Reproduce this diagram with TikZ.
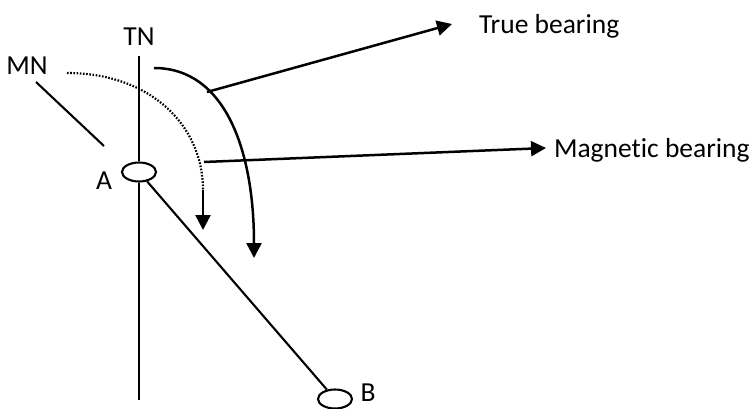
\documentclass[tikz,border=0pt]{standalone}
\usepackage{fontspec}
\setmainfont{Carlito}[Ligatures=NoCommon]
\usetikzlibrary{shapes.geometric,arrows.meta}

\begin{document}
\begin{tikzpicture}[x=1pt,y=-1pt,line width=2.1pt,
	station/.style={ellipse,draw,minimum width=34,minimum height=19,inner sep=0pt},
	lbl/.style={font=\fontsize{27.5}{32}\selectfont,inner sep=0pt},
	bear/.style={line width=2.5pt,-{Triangle[length=15pt,width=15pt]}},
	dots/.style={line width=2.2pt,dash pattern=on 1.6pt off 1.6pt}]
	
	\useasboundingbox (0,0) rectangle (754,408);
	
	\node at (139,172) [station] (A) {};
	\node at (335,399) [station] (B) {};
	
	\node at (104,181) [lbl] (la) {A};
	\node at (368,393) [lbl] (lb) {B};
	\node at (139,37) [lbl] (tn) {TN};
	\node at (27,66) [lbl] (mn) {MN};
	\node at (478,33) [lbl,anchor=base west] (true) {True bearing};
	\node at (553,157) [lbl,anchor=base west] (mag) {Magnetic bearing};
	
	\coordinate (t1) at (139,56);
	\coordinate (t2) at (139,400);
	\coordinate (m1) at (36,82);
	\coordinate (m2) at (104,146);
	\coordinate (s1) at (154,68);
	\coordinate (s2) at (254,258);
	\coordinate (d1) at (67,73);
	\coordinate (d2) at (203,190);
	\coordinate (d3) at (203,230);
	\coordinate (p1) at (207,92);
	\coordinate (p2) at (204,162);
	\coordinate (q1) at (452,24);
	\coordinate (q2) at (546,148);
	
	\path
	(t1) edge (A)
	(A) edge (t2)
	(A) edge (B)
	(m1) edge (m2)
	;
	
	% bearings
	\draw[bear] (s1) .. controls (225,68) and (254,150) .. (s2);
	\draw[dots] (d1) .. controls (150,73) and (203,125) .. (d2);
	\draw[bear] (d2) -- (d3);
	
	\draw[bear] (p1) -- (q1);
	\draw[bear] (p2) -- (q2);
	
\end{tikzpicture}
\end{document}
